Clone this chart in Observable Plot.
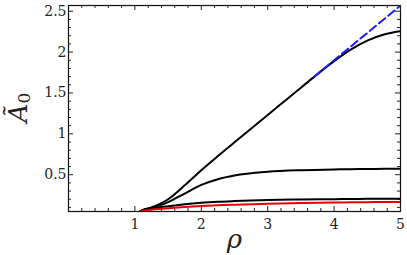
<!DOCTYPE html>
<html><head><meta charset="utf-8">
<script src="https://cdn.jsdelivr.net/npm/d3@7"></script>
<script src="https://cdn.jsdelivr.net/npm/@observablehq/plot@0.6"></script>
<style>
body{margin:0;background:#fff}
svg text{font-family:"DejaVu Serif","Liberation Serif",serif !important;}
</style></head>
<body><div id="chart"></div>
<script>
const rho     = [1, 1.1, 1.25, 1.5, 1.75, 2, 2.25, 2.5, 3, 3.5, 4, 4.25, 4.5, 4.75, 5];
const curve1  = [0, 0.06, 0.1, 0.2, 0.37, 0.555, 0.728, 0.896, 1.23, 1.565, 1.89, 2.03, 2.14, 2.215, 2.256];
const curve2  = [0, 0.06, 0.095, 0.165, 0.27, 0.375, 0.445, 0.49, 0.535, 0.555, 0.565, 0.568, 0.57, 0.572, 0.573];
const curve3  = [0, 0.06, 0.085, 0.115, 0.14, 0.158, 0.17, 0.178, 0.19, 0.197, 0.201, 0.203, 0.205, 0.206, 0.207];
const curveRed= [0, 0.058, 0.072, 0.09, 0.105, 0.117, 0.126, 0.134, 0.145, 0.153, 0.159, 0.162, 0.164, 0.166, 0.167];
const rhoAsym = [3.7, 5];
const asym    = [1.699, 2.569];
const xMajor = [1, 2, 3, 4, 5];
const xMinor = [0.2,0.4,0.6,0.8,1.2,1.4,1.6,1.8,2.2,2.4,2.6,2.8,3.2,3.4,3.6,3.8,4.2,4.4,4.6,4.8];
const yMajor = [0.5, 1, 1.5, 2, 2.5];
const yMinor = [0.1,0.2,0.3,0.4,0.6,0.7,0.8,0.9,1.1,1.2,1.3,1.4,1.6,1.7,1.8,1.9,2.1,2.2,2.3,2.4];
const xLabel = "ρ";
const yLabelMain = "Ã";
const yLabelSub = "0";

const W = 407, H = 255, mL = 68, mR = 7, mT = 5, mB = 44;
const fw = W - mL - mR, fh = H - mT - mB;
const tickStyle = {stroke: "#222", strokeWidth: 1};
const chart = Plot.plot({
  width: W, height: H,
  marginLeft: mL, marginRight: mR, marginTop: mT, marginBottom: mB,
  style: {fontFamily: "'DejaVu Serif', serif", fontSize: "14px", background: "white", color: "#222"},
  x: {domain: [0, 5]},
  y: {domain: [0.05, 2.57]},
  marks: [
    Plot.frame({stroke: "#111", strokeWidth: 1.2}),
    // tick labels
    Plot.axisX({anchor: "bottom", ticks: xMajor, tickSize: 0, tickPadding: 8, label: null, tickFormat: d => String(d)}),
    Plot.axisY({anchor: "left", ticks: yMajor, tickSize: 0, tickPadding: 2, label: null, tickFormat: d => String(d)}),
    // inward ticks (bottom, top, left, right)
    Plot.ruleX(xMajor, {x: d => d, insetTop: fh - 5, ...tickStyle}),
    Plot.ruleX(xMinor, {x: d => d, insetTop: fh - 3, ...tickStyle}),
    Plot.ruleX(xMajor, {x: d => d, insetBottom: fh - 5, ...tickStyle}),
    Plot.ruleX(xMinor, {x: d => d, insetBottom: fh - 3, ...tickStyle}),
    Plot.ruleY(yMajor, {y: d => d, insetRight: fw - 5, ...tickStyle}),
    Plot.ruleY(yMinor, {y: d => d, insetRight: fw - 3, ...tickStyle}),
    Plot.ruleY(yMajor, {y: d => d, insetLeft: fw - 5, ...tickStyle}),
    Plot.ruleY(yMinor, {y: d => d, insetLeft: fw - 3, ...tickStyle}),
    // curves
    Plot.lineY(curve1, {x: rho, y: curve1, stroke: "black", strokeWidth: 2, curve: "monotone-x", clip: true}),
    Plot.lineY(curve2, {x: rho, y: curve2, stroke: "black", strokeWidth: 2, curve: "monotone-x", clip: true}),
    Plot.lineY(curve3, {x: rho, y: curve3, stroke: "black", strokeWidth: 2, curve: "monotone-x", clip: true}),
    Plot.lineY(curveRed, {x: rho, y: curveRed, stroke: "#e8000b", strokeWidth: 2, curve: "monotone-x", clip: true}),
    Plot.lineY(asym, {x: rhoAsym, y: asym, stroke: "#1a1aff", strokeWidth: 2, strokeDasharray: "8,4", clip: true}),
    // axis titles
    Plot.text([xLabel], {frameAnchor: "bottom", dy: 36, fontSize: 26, fontStyle: "italic", fill: "#222"}),
    Plot.text([yLabelMain], {frameAnchor: "left", dx: -50, dy: 14, rotate: -90, fontSize: 26, fontStyle: "italic", fill: "#222"}),
    Plot.text([yLabelSub], {frameAnchor: "left", dx: -44, dy: -5, rotate: -90, fontSize: 17, fill: "#222"})
  ]
});
document.getElementById("chart").appendChild(chart);
</script>
</body></html>
